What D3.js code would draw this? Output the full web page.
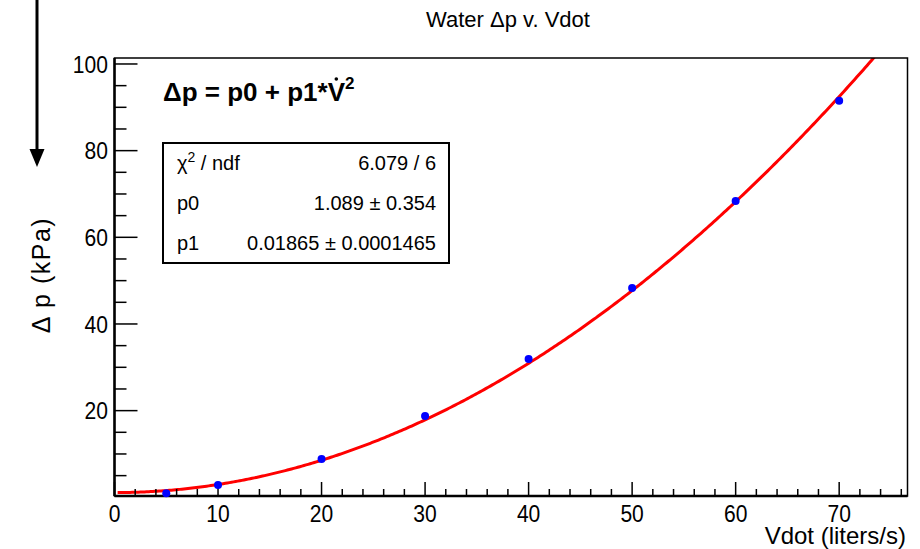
<!DOCTYPE html>
<html><head><meta charset="utf-8">
<script src="https://cdn.jsdelivr.net/npm/d3@7"></script>
<style>body{margin:0;background:#fff}svg{display:block}text{font-family:"Liberation Sans",Arial,sans-serif}</style>
</head><body>
<script>
const vdot = [5, 10, 20, 30, 40, 50, 60, 70];
const dp = [0.92, 2.84, 8.84, 18.76, 31.9, 48.3, 68.4, 91.5];
const dpErr = [0.45, 0.45, 0.45, 0.45, 0.45, 0.45, 0.45, 0.45];
const xTicks = [0, 10, 20, 30, 40, 50, 60, 70];
const yTicks = [20, 40, 60, 80, 100];
const fitP0 = 1.089, fitP1 = 0.01865;
const statLabels = ["χ2 / ndf", "p0", "p1"];
const statValues = ["6.079 / 6", "1.089 ± 0.354", "0.01865 ± 0.0001465"];

const W = 920, H = 549;
const L = 114.5, R = 907.5, T = 58, B = 496;
const svg = d3.select("body").append("svg").attr("width", W).attr("height", H);
const x = d3.scaleLinear().domain([0, 76.6]).range([L, R]);
const y = d3.scaleLinear().domain([0.3, 101.38]).range([B, T]);

// arrow on the left
svg.append("line").attr("x1", 37).attr("x2", 37).attr("y1", 0).attr("y2", 152)
  .attr("stroke", "#000").attr("stroke-width", 3);
svg.append("path").attr("d", "M29.5,149 L44.5,149 L37,167 Z").attr("fill", "#000");

// title
svg.append("text").attr("x", 508).attr("y", 27).attr("text-anchor", "middle")
  .attr("font-size", 22).text("Water Δp v. Vdot");

// clip
svg.append("clipPath").attr("id", "clip").append("rect")
  .attr("x", L).attr("y", T).attr("width", R - L).attr("height", B - T);

// fit curve
const fx = d3.range(0.3, 76.6, 0.2);
const line = d3.line().x(d => x(d)).y(d => y(fitP0 + fitP1 * d * d));
svg.append("path").attr("d", line(fx)).attr("clip-path", "url(#clip)")
  .attr("fill", "none").attr("stroke", "#ff0000").attr("stroke-width", 3);

// frame
svg.append("rect").attr("x", L).attr("y", T).attr("width", R - L).attr("height", B - T)
  .attr("fill", "none").attr("stroke", "#000").attr("stroke-width", 1.5);

// x axis ticks
const xMinor = d3.range(0, 77, 2);
svg.append("g").selectAll("line").data(xMinor).join("line")
  .attr("x1", d => x(d)).attr("x2", d => x(d)).attr("y1", B)
  .attr("y2", d => B - (d % 10 === 0 ? 14 : 7))
  .attr("stroke", "#000").attr("stroke-width", 1.5);
svg.append("line").attr("x1", L).attr("x2", R).attr("y1", B).attr("y2", B)
  .attr("stroke", "#000").attr("stroke-width", 2.5);
svg.append("g").selectAll("text").data(xTicks).join("text")
  .attr("transform", d => `translate(${x(d)},521.5) scale(0.86,1)`)
  .attr("text-anchor", "middle").attr("font-size", 24.5).text(d => d);

// y axis ticks
const yMinor = d3.range(5, 101, 5);
svg.append("g").selectAll("line").data(yMinor).join("line")
  .attr("y1", d => y(d)).attr("y2", d => y(d)).attr("x1", L)
  .attr("x2", d => L + (d % 20 === 0 ? 23 : 12))
  .attr("stroke", "#000").attr("stroke-width", 1.5);
svg.append("line").attr("x1", L).attr("x2", L).attr("y1", T).attr("y2", B)
  .attr("stroke", "#000").attr("stroke-width", 2.5);
svg.append("g").selectAll("text").data(yTicks).join("text")
  .attr("transform", d => `translate(108,${y(d) + 8.8}) scale(0.86,1)`)
  .attr("text-anchor", "end").attr("font-size", 24.5).text(d => d);

// axis titles
svg.append("text").attr("x", 906).attr("y", 544).attr("text-anchor", "end")
  .attr("font-size", 24).text("Vdot (liters/s)");
svg.append("text").attr("transform", "translate(50,275) rotate(-90)")
  .attr("text-anchor", "middle").attr("font-size", 25).attr("letter-spacing", 1.5)
  .text("Δ p (kPa)");

// data points
const pts = svg.append("g");
pts.selectAll("line").data(vdot).join("line")
  .attr("x1", d => x(d)).attr("x2", d => x(d))
  .attr("y1", (d, i) => y(dp[i] - dpErr[i])).attr("y2", (d, i) => y(dp[i] + dpErr[i]))
  .attr("stroke", "#0000ff").attr("stroke-width", 2);
pts.selectAll("circle").data(vdot).join("circle")
  .attr("cx", d => x(d)).attr("cy", (d, i) => y(dp[i])).attr("r", 4)
  .attr("fill", "#0000ff");

// formula
const ft = svg.append("text").attr("x", 163).attr("y", 101).attr("font-size", 26)
  .attr("font-weight", "bold");
ft.append("tspan").text("Δp = p0 + p1*");
ft.append("tspan").text("V");
ft.append("tspan").attr("dy", -12).attr("font-size", 17).text("2");
const nChars = ("Δp = p0 + p1*").length;
const ext = ft.node().getExtentOfChar(nChars);
svg.append("circle").attr("cx", ext.x + ext.width / 2).attr("cy", 79).attr("r", 1.8).attr("fill", "#000");

// stats box
const bx = 163, by = 143, bw = 286, bh = 120;
svg.append("rect").attr("x", bx).attr("y", by).attr("width", bw).attr("height", bh)
  .attr("fill", "#fff").attr("stroke", "#000").attr("stroke-width", 2);
const rowH = bh / statLabels.length;
statLabels.forEach((lab, i) => {
  const yy = by + rowH * (i + 0.5) + 7;
  const t = svg.append("text").attr("x", 177).attr("y", yy).attr("font-size", 20);
  if (i === 0) {
    t.append("tspan").text("χ");
    t.append("tspan").attr("dy", -8).attr("font-size", 14).text("2");
    t.append("tspan").attr("dy", 8).text(" / ndf");
  } else {
    t.text(lab);
  }
  svg.append("text").attr("x", 436).attr("y", yy).attr("text-anchor", "end")
    .attr("font-size", 20).text(statValues[i]);
});
</script>
</body></html>
